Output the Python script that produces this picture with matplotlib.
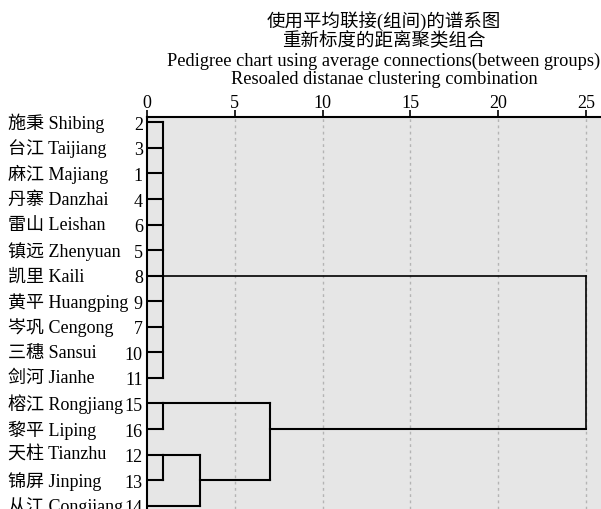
import matplotlib
matplotlib.use("Agg")
import matplotlib.pyplot as plt
import matplotlib.transforms as mtransforms

plt.rcParams['font.family'] = ['Liberation Serif', 'Noto Sans CJK SC']

# leaf order (top to bottom)
leaf_names = ["施秉 Shibing", "台江 Taijiang", "麻江 Majiang", "丹寨 Danzhai", "雷山 Leishan",
              "镇远 Zhenyuan", "凯里 Kaili", "黄平 Huangping", "岑巩 Cengong", "三穗 Sansui",
              "剑河 Jianhe", "榕江 Rongjiang", "黎平 Liping", "天柱 Tianzhu", "锦屏 Jinping",
              "从江 Congjiang"]
leaf_ids = ["2", "3", "1", "4", "6", "5", "8", "9", "7", "10", "11", "15", "16", "12", "13", "14"]

# rescaled merge distances
dist_A = 0.9    # rows 2..11 cluster
dist_B = 0.9    # 15 + 16
dist_C = 0.9    # 12 + 13
dist_D = 3.0    # (12,13) + 14
dist_E = 7.0    # (15,16) + (12,13,14)
dist_F = 25.0   # all
x_ticks = [0, 5, 10, 15, 20, 25]

fig = plt.figure(figsize=(6.01, 5.10), dpi=100)
ax = fig.add_axes([147 / 601, 0, 1 - 147 / 601, 1 - 118 / 510])
ax.set_facecolor('#e6e6e6')
ax.set_xlim(0, 25.85)
ax.set_ylim(15.13, -0.21)

lw = 1.5
kw = dict(color='black', lw=lw, solid_capstyle='projecting', zorder=3)

# leaves of cluster A
for i in range(0, 11):
    ax.plot([0, dist_A], [i, i], **kw)
ax.plot([dist_A, dist_A], [0, 10], **kw)
# cluster B (rows 11,12)
ax.plot([0, dist_B], [11, 11], **kw)
ax.plot([0, dist_B], [12, 12], **kw)
ax.plot([dist_B, dist_B], [11, 12], **kw)
# cluster C (rows 13,14)
ax.plot([0, dist_C], [13, 13], **kw)
ax.plot([0, dist_C], [14, 14], **kw)
ax.plot([dist_C, dist_C], [13, 14], **kw)
# cluster D
ax.plot([dist_C, dist_D], [13, 13], **kw)
ax.plot([0, dist_D], [15, 15], **kw)
ax.plot([dist_D, dist_D], [13, 15], **kw)
# cluster E
ax.plot([dist_B, dist_E], [11, 11], **kw)
ax.plot([dist_D, dist_E], [14, 14], **kw)
ax.plot([dist_E, dist_E], [11, 14], **kw)
# cluster F
ax.plot([dist_A, dist_F], [6, 6], color='black', lw=1.2, zorder=3)
ax.plot([dist_E, dist_F], [12, 12], **kw)
ax.plot([dist_F, dist_F], [6, 12], color='black', lw=1.2, zorder=3)

# grid
for t in x_ticks[1:]:
    ax.axvline(t, color='#b4b4b4', lw=1.0, ls=(0, (2, 2.5)), zorder=1)

ax.xaxis.tick_top()
ax.set_xticks(x_ticks)
ax.set_xticklabels([str(t) for t in x_ticks], fontsize=13)
ax.tick_params(axis='x', direction='out', length=5, width=1.2, pad=-1)
ax.set_yticks(range(len(leaf_ids)))
ax.set_yticklabels(leaf_ids, fontsize=13)
ax.tick_params(axis='y', length=0, pad=3)

for s in ['right', 'bottom']:
    ax.spines[s].set_visible(False)
for s in ['top', 'left']:
    ax.spines[s].set_linewidth(1.5)

trans = mtransforms.blended_transform_factory(fig.transFigure, ax.transData)
for i, name in enumerate(leaf_names):
    ax.text(8 / 601, i, name, transform=trans, ha='left', va='center', fontsize=13)

cx = 384 / 601
fig.text(cx, 1 - 21 / 510, "使用平均联接(组间)的谱系图", ha='center', va='center', fontsize=13.3)
fig.text(cx, 1 - 41 / 510, "重新标度的距离聚类组合", ha='center', va='center', fontsize=13.3)
fig.text(cx, 1 - 61 / 510, "Pedigree chart using average connections(between groups)", ha='center', va='center', fontsize=13.2)
fig.text(cx, 1 - 80 / 510, "Resoaled distanae clustering combination", ha='center', va='center', fontsize=13.2)

fig.savefig("out.png", dpi=100)
